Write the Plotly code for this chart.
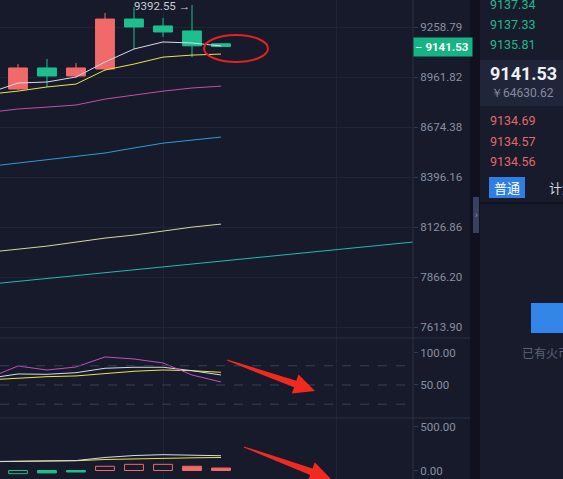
import math
import plotly.graph_objects as go

W, H = 563, 479

# candles (index 0..7), prices
candle_x = [0, 1, 2, 3, 4, 5, 6, 7]
opens = [8892, 9015, 8968, 9009, 9307, 9265, 9235, 9158]
highs = [9038, 9068, 9044, 9344, 9380, 9313, 9392.55, 9160]
lows = [8886, 8904, 8956, 9000, 9127, 9199, 9079, 9138]
closes = [9015, 8968, 9015, 9307, 9259, 9229, 9146, 9141.53]

# moving averages, index -1..7
ma_x = [-1, 0, 1, 2, 3, 4, 5, 6, 7]
ma_white = [8870, 8927, 8933, 8962, 9050, 9127, 9169, 9163, 9145]
ma_yellow = [8862, 8880, 8904, 8921, 9003, 9038, 9079, 9091, 9097]
ma_pink = [8758, 8777, 8788, 8800, 8834, 8857, 8880, 8898, 8909]
ma_blue = [8455, 8473, 8490, 8507, 8529, 8557, 8584, 8601, 8618]
ma_cream = [7995, 8011, 8027, 8048, 8069, 8085, 8106, 8127, 8143]
# long line runs past the last candle to the right edge
long_x = list(range(-1, 15))
ma_teal = [7830, 7845, 7860, 7875, 7889, 7904, 7919, 7934, 7949, 7964,
           7979, 7993, 8009, 8024, 8039, 8054]

price_ticks = [7613.90, 7866.20, 8126.86, 8396.16, 8674.38, 8961.82, 9258.79]
price_range = [7560.5, 9423.2]
last_price = 9141.53
high_mark = 9392.55

# KDJ panel
kdj_k = [60.5, 67.2, 66.7, 69.2, 76.1, 77.7, 77.7, 72.3, 65.6]
kdj_d = [58.0, 60.5, 63.0, 64.1, 68.3, 71.4, 73.4, 72.3, 69.8]
kdj_j = [61.0, 79.7, 73.4, 78.1, 93.8, 90.6, 84.4, 65.6, 54.7]
kdj_ticks = [50, 100]
kdj_levels = [80, 50, 20]
kdj_range = [-1.6, 123.4]

# MACD panel
macd_dif = [102, 104, 108, 113, 148, 170, 180, 176, 168]
macd_dea = [100, 102, 108, 111, 125, 133, 139, 144, 148]
macd_hist = [-36, -28, -17, 48, 70, 70, 48, 28]
hist_hollow = [True, False, False, True, True, True, False, False]
macd_ticks = [0, 500]
macd_range = [-96.6, 596.6]

# order book
asks = ["9137.34", "9137.33", "9135.81"]
bids = ["9134.69", "9134.57", "9134.56"]
cny_price = "￥64630.62"

BG = "#161a2a"
GRID = "#1f2436"
SEP = "#2a2f44"
RED = "#f06a6a"
GREEN = "#1dbf8e"
TICK_FONT = dict(family="Roboto, Arial", size=11.5, color="#8a90a3")


def px(x):
    return x / W


def py(y):
    return 1 - y / H


def arrow_path(tx, ty, hx, hy, head=21, half=10, tail_w=0.6, neck_w=3.5):
    # tapered screenshot-style arrow, pixel coords -> paper path
    dx, dy = hx - tx, hy - ty
    L = math.hypot(dx, dy)
    ux, uy = dx / L, dy / L
    nx, ny = -uy, ux
    bx, by = hx - ux * head, hy - uy * head
    pts = [
        (tx + nx * tail_w, ty + ny * tail_w),
        (bx + nx * neck_w, by + ny * neck_w),
        (bx + nx * half, by + ny * half),
        (hx, hy),
        (bx - nx * half, by - ny * half),
        (bx - nx * neck_w, by - ny * neck_w),
        (tx - nx * tail_w, ty - ny * tail_w),
    ]
    s = "M " + " L ".join(f"{px(a):.5f},{py(b):.5f}" for a, b in pts) + " Z"
    return s


fig = go.Figure()

# price panel
line_specs = [
    (long_x, ma_teal, "#25b8b0"),
    (ma_x, ma_cream, "#d5d8a2"),
    (ma_x, ma_blue, "#2f9bd6"),
    (ma_x, ma_pink, "#c44fa8"),
    (ma_x, ma_yellow, "#e9e44f"),
    (ma_x, ma_white, "#d8dbe8"),
]
for xs, ys, col in line_specs:
    fig.add_trace(go.Scatter(x=xs, y=ys, mode="lines", line=dict(color=col, width=1),
                             xaxis="x", yaxis="y", hoverinfo="skip"))

fig.add_trace(go.Candlestick(
    x=candle_x, open=opens, high=highs, low=lows, close=closes,
    increasing=dict(line=dict(color=RED, width=1), fillcolor=RED),
    decreasing=dict(line=dict(color=GREEN, width=1), fillcolor=GREEN),
    whiskerwidth=0, xaxis="x", yaxis="y",
))

# KDJ panel
for ys, col in [(kdj_d, "#e9e44f"), (kdj_k, "#d8dbe8"), (kdj_j, "#c44fc0")]:
    fig.add_trace(go.Scatter(x=ma_x, y=ys, mode="lines", line=dict(color=col, width=1),
                             xaxis="x2", yaxis="y2", hoverinfo="skip"))

# MACD panel
bar_cols = [RED if v > 0 else GREEN for v in macd_hist]
fig.add_trace(go.Bar(
    x=candle_x, y=macd_hist, width=0.65,
    marker=dict(color=[BG if h else c for h, c in zip(hist_hollow, bar_cols)],
                line=dict(color=bar_cols, width=1)),
    xaxis="x3", yaxis="y3", hoverinfo="skip",
))
for ys, col in [(macd_dea, "#e9e44f"), (macd_dif, "#d8dbe8")]:
    fig.add_trace(go.Scatter(x=ma_x, y=ys, mode="lines", line=dict(color=col, width=1),
                             xaxis="x3", yaxis="y3", hoverinfo="skip"))

x_range = [-0.6207, 13.621]
x_dom = [0, px(413)]
xcommon = dict(range=x_range, domain=x_dom, showticklabels=False, tickvals=[5, 11],
               showgrid=True, gridcolor=GRID, zeroline=False, showline=False, ticks="")
ycommon = dict(side="right", ticks="outside", ticklen=4, tickcolor="#333a50",
               tickfont=TICK_FONT, showline=False, zeroline=False, tickformat=".2f")

fig.update_layout(
    width=W, height=H, margin=dict(l=0, r=0, t=0, b=0),
    paper_bgcolor=BG, plot_bgcolor=BG, showlegend=False, hovermode=False,
    boxgap=0.35, boxgroupgap=0,
    xaxis=dict(xcommon, anchor="y", rangeslider=dict(visible=False)),
    xaxis2=dict(xcommon, anchor="y2", matches="x"),
    xaxis3=dict(xcommon, anchor="y3", matches="x"),
    yaxis=dict(ycommon, type="log", anchor="x", domain=[py(338), 1],
               range=[math.log10(price_range[0]), math.log10(price_range[1])],
               tickvals=price_ticks, showgrid=True, gridcolor=GRID),
    yaxis2=dict(ycommon, anchor="x2", domain=[py(418), py(338)], range=kdj_range,
                tickvals=kdj_ticks, showgrid=False),
    yaxis3=dict(ycommon, anchor="x3", domain=[0, py(418)], range=macd_range,
                tickvals=macd_ticks, showgrid=False),
)

shapes = []
# KDJ reference levels
for lv in kdj_levels:
    shapes.append(dict(type="line", xref="paper", yref="y2", x0=0, x1=px(413), y0=lv, y1=lv,
                       line=dict(color="#3a4058", width=1, dash="dash")))
# panel separators
for yy in [338, 418]:
    shapes.append(dict(type="line", xref="paper", yref="paper", x0=0, x1=px(470),
                       y0=py(yy), y1=py(yy), line=dict(color=SEP, width=1)))
shapes.append(dict(type="line", xref="paper", yref="paper", x0=px(413), x1=px(413),
                   y0=0, y1=1, line=dict(color=SEP, width=1)))
# right side panel
shapes += [
    dict(type="rect", xref="paper", yref="paper", x0=px(470), x1=px(480), y0=0, y1=1,
         fillcolor="#0f121e", line=dict(width=0)),
    dict(type="rect", xref="paper", yref="paper", x0=px(473), x1=px(479), y0=py(233), y1=py(197),
         fillcolor="#3a4160", line=dict(width=0)),
    dict(type="rect", xref="paper", yref="paper", x0=px(480), x1=1, y0=0, y1=1,
         fillcolor="#181b2b", line=dict(width=0)),
    dict(type="rect", xref="paper", yref="paper", x0=px(480), x1=1, y0=py(106), y1=py(60),
         fillcolor="#21253a", line=dict(width=0)),
    dict(type="line", xref="paper", yref="paper", x0=px(480), x1=1, y0=py(203), y1=py(203),
         line=dict(color="#10131f", width=2)),
    dict(type="rect", xref="paper", yref="paper", x0=px(489), x1=px(525), y0=py(198), y1=py(177),
         fillcolor="#2f7fe3", line=dict(width=0)),
    dict(type="rect", xref="paper", yref="paper", x0=px(531), x1=px(570), y0=py(333), y1=py(303),
         fillcolor="#3385ea", line=dict(width=0)),
]
# hand-drawn markup: ellipse around last candle and two red arrows
shapes.append(dict(type="circle", xref="paper", yref="paper", x0=px(204), x1=px(268),
                   y0=py(62), y1=py(35), line=dict(color="#e3231d", width=2)))
shapes.append(dict(type="path", xref="paper", yref="paper", path=arrow_path(227, 360, 315, 391),
                   fillcolor="#f02a1f", line=dict(width=0)))
shapes.append(dict(type="path", xref="paper", yref="paper", path=arrow_path(244, 447, 331, 479),
                   fillcolor="#f02a1f", line=dict(width=0)))
fig.update_layout(shapes=shapes)

ann = []
# high marker
ann.append(dict(x=6, y=math.log10(high_mark), xref="x", yref="y", xanchor="right", yanchor="middle",
                xshift=0, yshift=-1, text=f"{high_mark:.2f} →", showarrow=False,
                font=dict(family="Roboto, Arial", size=11.5, color="#c8ccd8")))
# last price tag on the axis
ann.append(dict(x=px(413), y=math.log10(last_price), xref="paper", yref="y", xanchor="left",
                yanchor="middle", text=f"– <b>{last_price:.2f}</b>", showarrow=False,
                bgcolor="#16b384", width=56, height=16, align="left", borderpad=1,
                font=dict(family="Roboto, Arial", size=11.5, color="#ffffff")))
# order book
for i, t in enumerate(asks):
    ann.append(dict(x=px(488), y=py(4 + 20 * i), xref="paper", yref="paper", xanchor="left",
                    yanchor="middle", text=t, showarrow=False,
                    font=dict(family="Roboto, Arial", size=12.5, color="#1fb98b")))
for i, t in enumerate(bids):
    ann.append(dict(x=px(488), y=py(121 + 20 * i), xref="paper", yref="paper", xanchor="left",
                    yanchor="middle", text=t, showarrow=False,
                    font=dict(family="Roboto, Arial", size=12.5, color="#e2696a")))
ann.append(dict(x=px(488), y=py(73), xref="paper", yref="paper", xanchor="left", yanchor="middle",
                text=f"<b>{last_price:.2f}</b>", showarrow=False,
                font=dict(family="Roboto, Arial", size=18, color="#eef0f5")))
ann.append(dict(x=px(489), y=py(93), xref="paper", yref="paper", xanchor="left", yanchor="middle",
                text=cny_price, showarrow=False,
                font=dict(family="Roboto, Arial", size=12, color="#858b9e")))
ann.append(dict(x=px(507), y=py(187), xref="paper", yref="paper", xanchor="center", yanchor="middle",
                text="普通", showarrow=False,
                font=dict(family="Noto Sans CJK SC", size=13, color="#ffffff")))
ann.append(dict(x=px(547), y=py(187), xref="paper", yref="paper", xanchor="left", yanchor="middle",
                text="计划", showarrow=False,
                font=dict(family="Noto Sans CJK SC", size=13, color="#d0d4de")))
ann.append(dict(x=px(520), y=py(352), xref="paper", yref="paper", xanchor="left", yanchor="middle",
                text="已有火币账号", showarrow=False,
                font=dict(family="Noto Sans CJK SC", size=12, color="#5d6378")))
ann.append(dict(x=px(476), y=py(215), xref="paper", yref="paper", xanchor="center", yanchor="middle",
                text="›", showarrow=False,
                font=dict(family="Roboto, Arial", size=9, color="#8a92b0")))
fig.update_layout(annotations=ann)

fig.write_html("out.html", config={"displayModeBar": False},
               post_script="document.body.style.margin='0';document.body.style.overflow='hidden';")
